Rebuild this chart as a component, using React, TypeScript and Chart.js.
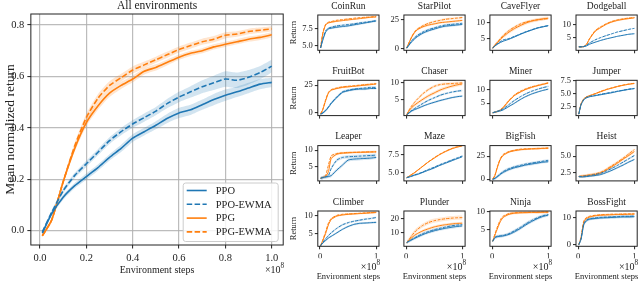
import React, { useEffect, useRef } from 'react';
import { Chart, registerables } from 'chart.js';
Chart.register(...registerables);

const FONT = '"Liberation Serif", "DejaVu Serif", serif';
const BLUE = '#1f77b4';
const ORANGE = '#ff7f0e';
const INK = '#222222';

// ---------------- main panel data ----------------
const seriesNames = ['PPO', 'PPO-EWMA', 'PPG', 'PPG-EWMA'];
const mainSteps = [0.01, 0.05, 0.1, 0.15, 0.2, 0.25, 0.3, 0.35, 0.4, 0.45, 0.5, 0.55, 0.6, 0.65, 0.7, 0.75, 0.8, 0.85, 0.9, 0.95, 1.0];
const mainPPO = [-0.01, 0.065, 0.13, 0.175, 0.21, 0.245, 0.285, 0.32, 0.36, 0.385, 0.41, 0.437, 0.458, 0.47, 0.49, 0.51, 0.527, 0.54, 0.555, 0.57, 0.577];
const mainPPOEWMA = [-0.005, 0.07, 0.155, 0.215, 0.26, 0.305, 0.35, 0.385, 0.415, 0.44, 0.465, 0.495, 0.52, 0.54, 0.56, 0.575, 0.59, 0.585, 0.597, 0.615, 0.64];
const mainPPG = [-0.02, 0.04, 0.19, 0.32, 0.42, 0.485, 0.535, 0.565, 0.59, 0.62, 0.635, 0.655, 0.675, 0.69, 0.7, 0.715, 0.725, 0.735, 0.745, 0.752, 0.762];
const mainPPGEWMA = [-0.02, 0.04, 0.19, 0.33, 0.44, 0.515, 0.565, 0.595, 0.625, 0.645, 0.665, 0.685, 0.705, 0.72, 0.735, 0.745, 0.76, 0.765, 0.775, 0.78, 0.785];
const mainPPOSpread = [0.005, 0.008, 0.01, 0.01, 0.012, 0.012, 0.012, 0.014, 0.015, 0.015, 0.016, 0.018, 0.02, 0.02, 0.02, 0.022, 0.022, 0.02, 0.02, 0.02, 0.018];
const mainPPOEWMASpread = [0.005, 0.008, 0.01, 0.01, 0.012, 0.012, 0.013, 0.014, 0.015, 0.016, 0.016, 0.018, 0.02, 0.022, 0.025, 0.028, 0.03, 0.03, 0.028, 0.026, 0.025];
const mainPPGSpread = [0.005, 0.008, 0.01, 0.012, 0.014, 0.015, 0.015, 0.014, 0.013, 0.012, 0.012, 0.011, 0.01, 0.01, 0.01, 0.01, 0.01, 0.01, 0.01, 0.01, 0.01];
const mainPPGEWMASpread = [0.005, 0.008, 0.01, 0.013, 0.015, 0.016, 0.016, 0.015, 0.014, 0.013, 0.012, 0.012, 0.012, 0.012, 0.012, 0.012, 0.012, 0.011, 0.011, 0.01, 0.01];
const mainXTicks = [0, 0.2, 0.4, 0.6, 0.8, 1.0];
const mainXTickLabels = ['0.0', '0.2', '0.4', '0.6', '0.8', '1.0'];
const mainYTicks = [0, 0.2, 0.4, 0.6, 0.8];
const mainYTickLabels = ['0.0', '0.2', '0.4', '0.6', '0.8'];

// ---------------- per-game data ----------------
const gameSteps = [0.01, 0.05, 0.1, 0.15, 0.2, 0.3, 0.4, 0.5, 0.6, 0.7, 0.8, 0.9, 1.0];
const gameXTicks = [0, 1];
const gameXTickLabels = ['0', '1'];
const gameNames = ['CoinRun', 'StarPilot', 'CaveFlyer', 'Dodgeball', 'FruitBot', 'Chaser', 'Miner', 'Jumper', 'Leaper', 'Maze', 'BigFish', 'Heist', 'Climber', 'Plunder', 'Ninja', 'BossFight'];

const coinRunPPO = [4.6, 5.8, 7.0, 7.5, 7.6, 7.75, 7.85, 7.95, 8.1, 8.25, 8.4, 8.55, 8.7];
const coinRunPPOEWMA = [4.6, 6.0, 7.2, 7.6, 7.75, 7.95, 8.05, 8.15, 8.25, 8.4, 8.5, 8.6, 8.75];
const coinRunPPG = [4.6, 6.8, 8.1, 8.4, 8.5, 8.65, 8.75, 8.85, 8.95, 9.05, 9.15, 9.25, 9.3];
const coinRunPPGEWMA = [4.6, 6.9, 8.2, 8.5, 8.6, 8.8, 8.9, 9.0, 9.1, 9.2, 9.25, 9.3, 9.4];

const starPilotPPO = [0.5, 3, 6, 8.5, 10.5, 13.5, 15.5, 17, 18.5, 19.5, 20, 20.5, 21];
const starPilotPPOEWMA = [0.5, 3.5, 7, 9.5, 11.5, 14.5, 16.5, 18, 19.5, 20.5, 21, 21.5, 22];
const starPilotPPG = [0.5, 5, 10, 14, 16.5, 19, 20.5, 21.5, 22.5, 23, 23.5, 24, 24.5];
const starPilotPPGEWMA = [0.5, 5, 10.5, 14.5, 17, 20, 22, 23.5, 24.5, 25.5, 26, 26.5, 27];

const caveFlyerPPO = [2, 2.7, 3.3, 3.8, 4.2, 4.8, 5.5, 6.3, 7, 7.6, 8.2, 8.6, 9.0];
const caveFlyerPPOEWMA = [2, 2.8, 3.5, 4.1, 4.6, 5.0, 5.7, 6.4, 7.1, 7.7, 8.3, 8.7, 9.0];
const caveFlyerPPG = [2, 2.9, 3.8, 4.8, 5.6, 7.0, 8.1, 9.0, 9.8, 10.4, 10.8, 11.1, 11.3];
const caveFlyerPPGEWMA = [2, 3.0, 4.0, 5.0, 6.0, 7.5, 8.6, 9.5, 10.1, 10.5, 10.8, 11.0, 11.2];

const dodgeballPPO = [1.5, 1.5, 1.6, 1.9, 2.5, 3.3, 4.0, 4.6, 5.1, 5.6, 6.0, 6.4, 6.6];
const dodgeballPPOEWMA = [1.5, 1.5, 1.6, 2.1, 3.0, 4.2, 5.1, 5.9, 6.6, 7.3, 7.8, 8.3, 8.7];
const dodgeballPPG = [1.5, 1.5, 1.6, 2.5, 4.5, 7.5, 9.0, 10.3, 11.2, 11.8, 12.2, 12.5, 12.8];
const dodgeballPPGEWMA = [1.5, 1.5, 1.6, 2.5, 4.7, 7.8, 9.3, 10.5, 11.4, 12.0, 12.4, 12.7, 12.9];

const fruitBotPPO = [-1, 0, 2, 5, 8.5, 14, 18.5, 20, 21, 21.5, 21.5, 22, 22];
const fruitBotPPOEWMA = [-1, 0, 2.5, 5.5, 9, 14.5, 19, 20.5, 21.5, 22, 22.5, 23, 23];
const fruitBotPPG = [-1, 3, 11, 18, 20.5, 22, 23, 23.5, 24, 24.5, 25, 25.5, 26];
const fruitBotPPGEWMA = [-1, 3.5, 12, 18.5, 21, 22.5, 23.5, 24, 24.5, 25, 25.5, 26, 26.5];

const chaserPPO = [0.7, 1.2, 1.8, 2.2, 2.5, 3.2, 3.8, 4.3, 4.8, 5.2, 5.6, 5.9, 6.1];
const chaserPPOEWMA = [0.7, 1.3, 2.0, 2.5, 3.0, 4.0, 4.9, 5.6, 6.3, 6.8, 7.2, 7.5, 7.7];
const chaserPPG = [0.7, 1.8, 2.8, 3.5, 4.1, 5.2, 6.2, 7.0, 7.8, 8.4, 8.9, 9.3, 9.6];
const chaserPPGEWMA = [0.7, 2.0, 3.3, 4.3, 5.2, 6.8, 8.0, 8.9, 9.4, 9.6, 9.7, 9.8, 9.9];

const minerPPO = [1.5, 1.7, 2.0, 2.2, 2.6, 3.8, 5.0, 6.3, 7.4, 8.3, 9.0, 9.6, 10.1];
const minerPPOEWMA = [1.5, 1.8, 2.1, 2.5, 3.0, 4.5, 6.0, 7.3, 8.4, 9.3, 10.0, 10.6, 11.1];
const minerPPG = [1.5, 1.7, 2.0, 2.5, 3.4, 5.8, 7.8, 9.0, 10.0, 10.7, 11.3, 11.8, 12.3];
const minerPPGEWMA = [1.5, 1.7, 2.0, 2.6, 3.6, 6.0, 8.0, 9.3, 10.2, 10.9, 11.4, 11.9, 12.4];

const jumperPPO = [1.0, 2.8, 3.8, 4.2, 4.4, 4.6, 4.8, 5.0, 5.2, 5.45, 5.65, 5.85, 6.0];
const jumperPPOEWMA = [1.0, 2.9, 3.9, 4.3, 4.5, 4.7, 4.9, 5.1, 5.3, 5.5, 5.7, 5.9, 6.05];
const jumperPPG = [1.0, 3.0, 4.0, 4.4, 4.6, 5.0, 5.4, 5.8, 6.1, 6.4, 6.65, 6.85, 7.0];
const jumperPPGEWMA = [1.0, 3.0, 4.0, 4.4, 4.6, 5.0, 5.45, 5.85, 6.15, 6.45, 6.7, 6.9, 7.05];

const leaperPPO = [1.5, 1.7, 1.9, 2.0, 2.3, 4.0, 5.5, 7.0, 7.3, 7.4, 7.5, 7.6, 7.8];
const leaperPPOEWMA = [1.5, 1.7, 1.9, 2.3, 4.5, 7.0, 7.8, 8.0, 8.1, 8.2, 8.3, 8.4, 8.5];
const leaperPPG = [1.5, 1.7, 2.0, 3.5, 7.5, 8.8, 9.1, 9.2, 9.3, 9.35, 9.4, 9.45, 9.5];
const leaperPPGEWMA = [1.5, 1.8, 2.3, 5.5, 8.3, 9.0, 9.2, 9.3, 9.35, 9.4, 9.45, 9.5, 9.5];

const mazePPO = [4.3, 4.4, 4.5, 4.65, 4.75, 5.05, 5.35, 5.65, 6.0, 6.3, 6.6, 6.9, 7.2];
const mazePPOEWMA = [4.3, 4.4, 4.55, 4.7, 4.8, 5.1, 5.45, 5.75, 6.1, 6.4, 6.7, 7.0, 7.3];
const mazePPG = [4.3, 4.5, 4.75, 5.0, 5.3, 5.9, 6.5, 7.0, 7.5, 7.9, 8.25, 8.5, 8.7];
const mazePPGEWMA = [4.3, 4.5, 4.75, 5.0, 5.3, 5.9, 6.5, 7.05, 7.55, 7.95, 8.3, 8.55, 8.75];

const bigFishPPO = [0, 1, 3, 5.5, 7.5, 10.5, 12.5, 14, 15.5, 16.5, 17.5, 18.5, 19];
const bigFishPPOEWMA = [0, 1, 3.5, 6, 8.5, 11.5, 13.5, 15, 16.5, 17.5, 18.5, 19.5, 20.5];
const bigFishPPG = [0, 4, 14, 22, 26, 29.5, 31, 32, 32.5, 33, 33, 33.5, 33.5];
const bigFishPPGEWMA = [0, 4.5, 15, 23, 27, 30, 31.5, 32.5, 33, 33, 33.5, 33.5, 34];

const heistPPO = [1.9, 1.85, 1.85, 1.9, 1.95, 2.05, 2.2, 2.5, 2.85, 3.25, 3.65, 4.1, 4.5];
const heistPPOEWMA = [1.9, 1.9, 1.95, 2.0, 2.05, 2.2, 2.4, 2.75, 3.15, 3.6, 4.1, 4.6, 5.1];
const heistPPG = [1.9, 1.95, 2.0, 2.05, 2.1, 2.2, 2.45, 2.9, 3.4, 3.95, 4.55, 5.1, 5.7];
const heistPPGEWMA = [1.9, 1.95, 2.0, 2.1, 2.15, 2.3, 2.55, 3.0, 3.55, 4.1, 4.7, 5.35, 6.0];

const climberPPO = [1.5, 2.3, 3.0, 3.7, 4.2, 5.2, 6.2, 7.0, 7.6, 7.9, 8.0, 8.1, 8.2];
const climberPPOEWMA = [1.5, 2.5, 3.5, 4.4, 5.2, 6.5, 7.5, 8.1, 8.5, 8.8, 9.1, 9.3, 9.6];
const climberPPG = [1.5, 3.0, 5.0, 7.5, 9.0, 10.0, 10.3, 10.5, 10.6, 10.7, 10.8, 10.9, 11.0];
const climberPPGEWMA = [1.5, 3.2, 5.5, 8.0, 9.3, 10.2, 10.5, 10.6, 10.7, 10.8, 10.9, 11.0, 11.1];

const plunderPPO = [3, 4, 5, 6, 7, 8.8, 10.3, 11.5, 12.5, 13.3, 14, 14.6, 15];
const plunderPPOEWMA = [3, 4, 5.2, 6.4, 7.5, 9.5, 11, 12.3, 13.3, 14.2, 15, 15.6, 16];
const plunderPPG = [3, 4.5, 6.5, 8.2, 9.5, 11.5, 13, 14.3, 15.2, 15.9, 16.4, 16.8, 17];
const plunderPPGEWMA = [3, 5, 8, 10.5, 12.5, 15.5, 17.5, 18.8, 19.6, 20.2, 20.6, 20.9, 21];

const ninjaPPO = [1.8, 2.8, 3.1, 3.2, 3.3, 3.7, 4.4, 5.3, 6.3, 7.2, 8.0, 8.6, 9.0];
const ninjaPPOEWMA = [1.8, 2.9, 3.2, 3.3, 3.4, 3.9, 4.7, 5.6, 6.6, 7.5, 8.2, 8.8, 9.1];
const ninjaPPG = [1.8, 3.5, 5.5, 7.3, 8.4, 9.2, 9.5, 9.6, 9.65, 9.7, 9.7, 9.75, 9.8];
const ninjaPPGEWMA = [1.8, 3.8, 6.0, 7.8, 8.7, 9.4, 9.6, 9.7, 9.7, 9.75, 9.75, 9.8, 9.8];

const bossFightPPO = [0, 2, 7.5, 9.0, 9.5, 9.8, 10.0, 10.1, 10.2, 10.3, 10.4, 10.4, 10.5];
const bossFightPPOEWMA = [0, 2.2, 8.0, 9.3, 9.7, 10.0, 10.2, 10.3, 10.4, 10.5, 10.6, 10.6, 10.7];
const bossFightPPG = [0, 2.5, 8.5, 9.8, 10.3, 10.8, 11.0, 11.1, 11.2, 11.3, 11.3, 11.4, 11.4];
const bossFightPPGEWMA = [0, 2.8, 9.0, 10.2, 10.6, 11.0, 11.2, 11.3, 11.4, 11.4, 11.5, 11.5, 11.6];

// band half-widths per game: [PPO, PPO-EWMA, PPG, PPG-EWMA]
const gameSpreads = [
  [0.15, 0.15, 0.1, 0.1], [1, 1, 1, 1], [0.2, 0.2, 0.5, 0.4], [0.2, 0.2, 0.3, 0.3],
  [1, 1, 0.7, 0.7], [0.3, 0.3, 0.5, 0.4], [0.3, 0.3, 0.3, 0.3], [0.1, 0.1, 0.1, 0.1],
  [0.5, 0.5, 0.3, 0.3], [0.1, 0.1, 0.08, 0.08], [1.5, 1.5, 1, 1], [0.15, 0.15, 0.2, 0.2],
  [0.3, 0.3, 0.2, 0.2], [1, 1, 1, 1.5], [0.4, 0.4, 0.3, 0.3], [0.5, 0.5, 0.3, 0.3],
];
const gameYRange = [
  [4.25, 9.6], [-1.4, 29.2], [1.35, 12.3], [0.15, 13.9],
  [-2.4, 29.4], [0.47, 10.65], [0.47, 13.3], [0.71, 7.63],
  [0.68, 11.4], [3.86, 8.73], [-1.8, 36.5], [1.24, 6.6],
  [1.33, 11.45], [0.3, 25.8], [0.44, 10.1], [-0.6, 12.6],
];
const gameYTicks = [
  [5, 7.5], [0, 25], [5, 10], [5, 10],
  [0, 25], [5, 10], [5, 10], [2.5, 5, 7.5],
  [5, 10], [5, 7.5], [0, 25], [2.5, 5],
  [5, 10], [10, 20], [5, 10], [0, 10],
];
const gameYTickLabels = [
  ['5.0', '7.5'], ['0', '25'], ['5', '10'], ['5', '10'],
  ['0', '25'], ['5', '10'], ['5', '10'], ['2.5', '5.0', '7.5'],
  ['5', '10'], ['5.0', '7.5'], ['0', '25'], ['2.5', '5.0'],
  ['5', '10'], ['10', '20'], ['5', '10'], ['0', '10'],
];
const gameSeries = [
  [coinRunPPO, coinRunPPOEWMA, coinRunPPG, coinRunPPGEWMA],
  [starPilotPPO, starPilotPPOEWMA, starPilotPPG, starPilotPPGEWMA],
  [caveFlyerPPO, caveFlyerPPOEWMA, caveFlyerPPG, caveFlyerPPGEWMA],
  [dodgeballPPO, dodgeballPPOEWMA, dodgeballPPG, dodgeballPPGEWMA],
  [fruitBotPPO, fruitBotPPOEWMA, fruitBotPPG, fruitBotPPGEWMA],
  [chaserPPO, chaserPPOEWMA, chaserPPG, chaserPPGEWMA],
  [minerPPO, minerPPOEWMA, minerPPG, minerPPGEWMA],
  [jumperPPO, jumperPPOEWMA, jumperPPG, jumperPPGEWMA],
  [leaperPPO, leaperPPOEWMA, leaperPPG, leaperPPGEWMA],
  [mazePPO, mazePPOEWMA, mazePPG, mazePPGEWMA],
  [bigFishPPO, bigFishPPOEWMA, bigFishPPG, bigFishPPGEWMA],
  [heistPPO, heistPPOEWMA, heistPPG, heistPPGEWMA],
  [climberPPO, climberPPOEWMA, climberPPG, climberPPGEWMA],
  [plunderPPO, plunderPPOEWMA, plunderPPG, plunderPPGEWMA],
  [ninjaPPO, ninjaPPOEWMA, ninjaPPG, ninjaPPGEWMA],
  [bossFightPPO, bossFightPPOEWMA, bossFightPPG, bossFightPPGEWMA],
];

// ---------------- rendering ----------------
const SERIES_COLORS = [BLUE, BLUE, ORANGE, ORANGE];
const SERIES_DASHED = [false, true, false, true];

function rgba(hex: string, a: number) {
  const n = parseInt(hex.slice(1), 16);
  return `rgba(${(n >> 16) & 255},${(n >> 8) & 255},${n & 255},${a})`;
}

type Decor = {
  title?: string; titleSize?: number; titleGap?: number;
  ylabel?: string; ylabelSize?: number; ylabelX?: number;
  xlabel?: string; xlabelSize?: number; xlabelGap?: number;
  offset?: boolean; offsetSize?: number; offsetGap?: number;
  legend?: boolean;
};

type PanelCfg = {
  steps: number[]; values: number[][]; spreads: number[][];
  box: { l: number; t: number; r: number; b: number };
  yW: number; xH: number;
  xMin: number; xMax: number; yMin: number; yMax: number;
  xTicks: number[]; xLabels: string[]; yTicks: number[]; yLabels: string[];
  lineWidth: number; dash: number[]; tickSize: number; tickLen: number; tickPad: number;
  grid: boolean; bandAlpha: number; decor: Decor;
};

function drawOffset(ctx: CanvasRenderingContext2D, xRight: number, yMid: number, size: number) {
  const sup = size * 0.72;
  ctx.font = `${sup}px ${FONT}`;
  const w8 = ctx.measureText('8').width;
  ctx.font = `${size}px ${FONT}`;
  const w = ctx.measureText('×10').width;
  ctx.textAlign = 'left';
  ctx.textBaseline = 'middle';
  ctx.fillText('×10', xRight - w8 - w, yMid);
  ctx.font = `${sup}px ${FONT}`;
  ctx.fillText('8', xRight - w8, yMid - size * 0.42);
}

function decorPlugin(d: Decor, lineWidth: number) {
  return {
    id: 'decor',
    afterDraw(chart: any) {
      const ctx: CanvasRenderingContext2D = chart.ctx;
      const a = chart.chartArea;
      ctx.save();
      ctx.strokeStyle = INK;
      ctx.lineWidth = 1;
      ctx.strokeRect(a.left, a.top, a.right - a.left, a.bottom - a.top);
      ctx.fillStyle = INK;
      const cx = (a.left + a.right) / 2;
      const cy = (a.top + a.bottom) / 2;
      if (d.title) {
        ctx.font = `${d.titleSize}px ${FONT}`;
        ctx.textAlign = 'center';
        ctx.textBaseline = 'middle';
        ctx.fillText(d.title, cx, a.top - (d.titleGap || 8));
      }
      if (d.ylabel) {
        ctx.save();
        ctx.translate(d.ylabelX as number, cy);
        ctx.rotate(-Math.PI / 2);
        ctx.font = `${d.ylabelSize}px ${FONT}`;
        ctx.textAlign = 'center';
        ctx.textBaseline = 'middle';
        ctx.fillText(d.ylabel, 0, 0);
        ctx.restore();
      }
      if (d.xlabel) {
        ctx.font = `${d.xlabelSize}px ${FONT}`;
        ctx.textAlign = 'center';
        ctx.textBaseline = 'middle';
        ctx.fillText(d.xlabel, cx, a.bottom + (d.xlabelGap || 16));
      }
      if (d.offset) {
        drawOffset(ctx, a.right + 1, a.bottom + (d.offsetGap || 22), d.offsetSize || 10);
      }
      if (d.legend) {
        const lw = 95, lh = 58.5;
        const lx = a.right - 5 - lw;
        const ly = a.bottom - 3.5 - lh;
        ctx.fillStyle = 'rgba(255,255,255,0.85)';
        ctx.strokeStyle = '#cccccc';
        ctx.lineWidth = 1;
        ctx.beginPath();
        const r = 2.5;
        ctx.moveTo(lx + r, ly);
        ctx.lineTo(lx + lw - r, ly);
        ctx.quadraticCurveTo(lx + lw, ly, lx + lw, ly + r);
        ctx.lineTo(lx + lw, ly + lh - r);
        ctx.quadraticCurveTo(lx + lw, ly + lh, lx + lw - r, ly + lh);
        ctx.lineTo(lx + r, ly + lh);
        ctx.quadraticCurveTo(lx, ly + lh, lx, ly + lh - r);
        ctx.lineTo(lx, ly + r);
        ctx.quadraticCurveTo(lx, ly, lx + r, ly);
        ctx.closePath();
        ctx.fill();
        ctx.stroke();
        seriesNames.forEach((name, i) => {
          const y = ly + 7.5 + i * 13.8;
          ctx.strokeStyle = SERIES_COLORS[i];
          ctx.lineWidth = lineWidth;
          ctx.setLineDash(SERIES_DASHED[i] ? [5.5, 2.4] : []);
          ctx.beginPath();
          ctx.moveTo(lx + 3.5, y);
          ctx.lineTo(lx + 23.5, y);
          ctx.stroke();
          ctx.setLineDash([]);
          ctx.fillStyle = INK;
          ctx.font = `10.5px ${FONT}`;
          ctx.textAlign = 'left';
          ctx.textBaseline = 'middle';
          ctx.fillText(name, lx + 32.5, y + 0.5);
        });
      }
      ctx.restore();
    },
  };
}

function Panel({ cfg }: { cfg: PanelCfg }) {
  const ref = useRef<HTMLCanvasElement | null>(null);
  useEffect(() => {
    if (!ref.current) return;
    const datasets: any[] = [];
    cfg.values.forEach((vals, i) => {
      datasets.push({
        data: cfg.steps.map((x, j) => ({ x, y: vals[j] })),
        borderColor: SERIES_COLORS[i],
        borderWidth: cfg.lineWidth,
        borderDash: SERIES_DASHED[i] ? cfg.dash : [],
        pointRadius: 0,
        fill: false,
        tension: 0.2,
      });
    });
    cfg.values.forEach((vals, i) => {
      const sp = cfg.spreads[i];
      datasets.push({
        data: cfg.steps.map((x, j) => ({ x, y: vals[j] - sp[j] })),
        borderWidth: 0, pointRadius: 0, fill: false, tension: 0.2,
        borderColor: 'rgba(0,0,0,0)',
      });
      datasets.push({
        data: cfg.steps.map((x, j) => ({ x, y: vals[j] + sp[j] })),
        borderWidth: 0, pointRadius: 0, fill: '-1', tension: 0.2,
        borderColor: 'rgba(0,0,0,0)',
        backgroundColor: rgba(SERIES_COLORS[i], cfg.bandAlpha),
      });
    });
    const { box } = cfg;
    const chart = new Chart(ref.current, {
      type: 'line',
      data: { datasets },
      plugins: [decorPlugin(cfg.decor, cfg.lineWidth) as any],
      options: {
        responsive: false,
        animation: false,
        events: [],
        layout: {
          padding: {
            left: box.l - cfg.yW,
            top: box.t,
            right: 640 - box.r,
            bottom: 281 - box.b - cfg.xH,
          },
        },
        plugins: {
          legend: { display: false },
          tooltip: { enabled: false },
          title: { display: false },
          filler: { drawTime: 'beforeDatasetsDraw' },
        } as any,
        scales: {
          x: {
            type: 'linear',
            min: cfg.xMin,
            max: cfg.xMax,
            afterBuildTicks: (s: any) => { s.ticks = cfg.xTicks.map((v) => ({ value: v })); },
            afterFit: (s: any) => { s.height = cfg.xH; },
            ticks: {
              autoSkip: false, maxRotation: 0,
              padding: cfg.tickPad,
              color: INK,
              font: { family: FONT, size: cfg.tickSize },
              callback: (_v: any, i: number) => cfg.xLabels[i] ?? '',
            },
            grid: {
              drawOnChartArea: cfg.grid,
              color: 'rgba(176,176,176,0.85)',
              lineWidth: 1.2,
              drawTicks: true,
              tickLength: cfg.tickLen,
              tickColor: INK,
              tickWidth: 1,
            },
            border: { display: false },
          },
          y: {
            type: 'linear',
            min: cfg.yMin,
            max: cfg.yMax,
            afterBuildTicks: (s: any) => { s.ticks = cfg.yTicks.map((v) => ({ value: v })); },
            afterFit: (s: any) => { s.width = cfg.yW; },
            ticks: {
              autoSkip: false,
              padding: cfg.tickPad,
              color: INK,
              font: { family: FONT, size: cfg.tickSize },
              callback: (_v: any, i: number) => cfg.yLabels[i] ?? '',
            },
            grid: {
              drawOnChartArea: cfg.grid,
              color: 'rgba(176,176,176,0.85)',
              lineWidth: 1.2,
              drawTicks: true,
              tickLength: cfg.tickLen,
              tickColor: INK,
              tickWidth: 1,
            },
            border: { display: false },
          },
        },
      } as any,
    });
    return () => chart.destroy();
  }, [cfg]);
  return (
    <canvas
      ref={ref}
      width={640}
      height={281}
      style={{ position: 'absolute', left: 0, top: 0, width: 640, height: 281 }}
    />
  );
}

const COL_L = [317.8, 403.9, 489.9, 576.0];
const ROW_T = [15, 80.3, 145.6, 211];
const SW = 61.2;
const SH = 35.3;

const mainCfg: PanelCfg = {
  steps: mainSteps,
  values: [mainPPO, mainPPOEWMA, mainPPG, mainPPGEWMA],
  spreads: [mainPPOSpread, mainPPOEWMASpread, mainPPGSpread, mainPPGEWMASpread],
  box: { l: 30.85, t: 14, r: 283.2, b: 245 },
  yW: 30, xH: 20,
  xMin: -0.0395, xMax: 1.0495, yMin: -0.056, yMax: 0.843,
  xTicks: mainXTicks, xLabels: mainXTickLabels, yTicks: mainYTicks, yLabels: mainYTickLabels,
  lineWidth: 1.6, dash: [5.5, 2.4], tickSize: 10.5, tickLen: 3.5, tickPad: 3,
  grid: true, bandAlpha: 0.2,
  decor: {
    title: 'All environments', titleSize: 11.5, titleGap: 8,
    ylabel: 'Mean normalized return', ylabelSize: 13.5, ylabelX: 10,
    xlabel: 'Environment steps', xlabelSize: 10, xlabelGap: 25,
    offset: true, offsetSize: 10, offsetGap: 25.5,
    legend: true,
  },
};

const gameCfgs: PanelCfg[] = gameNames.map((name, g) => {
  const row = Math.floor(g / 4);
  const col = g % 4;
  const l = COL_L[col];
  const t = ROW_T[row];
  const bottomRow = row === 3;
  return {
    steps: gameSteps,
    values: gameSeries[g],
    spreads: gameSpreads[g].map((s) => gameSteps.map(() => s)),
    box: { l, t, r: l + SW, b: t + SH },
    yW: 22, xH: 12,
    xMin: -0.0395, xMax: 1.0495, yMin: gameYRange[g][0], yMax: gameYRange[g][1],
    xTicks: gameXTicks, xLabels: bottomRow ? gameXTickLabels : ['', ''],
    yTicks: gameYTicks[g], yLabels: gameYTickLabels[g],
    lineWidth: 1, dash: [3, 1.4], tickSize: 8.5, tickLen: 3, tickPad: 2,
    grid: false, bandAlpha: 0.18,
    decor: {
      title: name, titleSize: 9.5, titleGap: 9,
      ylabel: col === 0 ? 'Return' : undefined, ylabelSize: 8.5, ylabelX: 293.5,
      xlabel: bottomRow ? 'Environment steps' : undefined, xlabelSize: 8.5, xlabelGap: 30,
      offset: bottomRow, offsetSize: 10, offsetGap: 21,
    },
  };
});

export default function App() {
  return (
    <div style={{ position: 'fixed', left: 0, top: 0, width: 640, height: 281, background: '#fff' }}>
      <Panel cfg={mainCfg} />
      {gameCfgs.map((c, i) => (
        <Panel key={i} cfg={c} />
      ))}
    </div>
  );
}
